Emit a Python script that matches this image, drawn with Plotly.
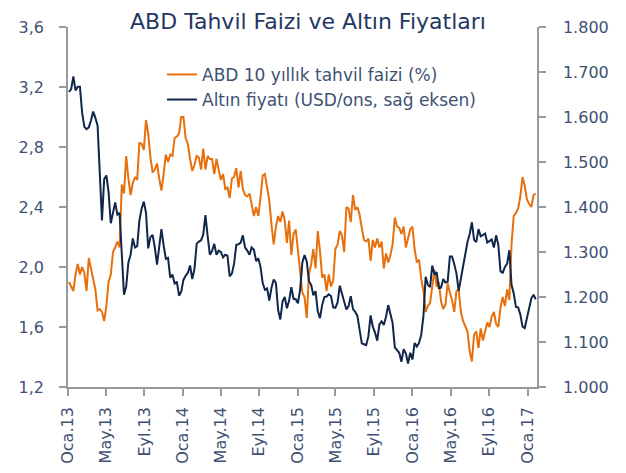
import pandas as pd
import plotly.graph_objects as go

yield_2013 = [1.90, 1.87, 1.84, 1.95, 2.02, 1.95, 2.00, 1.96, 1.84, 2.06, 1.99, 1.93, 1.85,
              1.71, 1.72, 1.70, 1.64, 1.74, 1.90, 1.95, 2.10, 2.13, 2.17, 2.13, 2.55, 2.49,
              2.74, 2.59, 2.48, 2.56, 2.60, 2.58, 2.83, 2.82, 2.78, 2.98, 2.89, 2.73, 2.63,
              2.65, 2.69, 2.59, 2.51, 2.62, 2.75, 2.70, 2.75, 2.74, 2.86, 2.87, 2.89, 3.00]
yield_2014 = [3.00, 2.86, 2.82, 2.72, 2.64, 2.68, 2.74, 2.73, 2.65, 2.79, 2.65, 2.74, 2.72,
              2.72, 2.62, 2.72, 2.66, 2.58, 2.62, 2.52, 2.53, 2.46, 2.59, 2.60, 2.66, 2.53,
              2.64, 2.52, 2.48, 2.47, 2.49, 2.42, 2.34, 2.40, 2.34, 2.46, 2.61, 2.62, 2.53,
              2.44, 2.28, 2.15, 2.27, 2.34, 2.30, 2.37, 2.31, 2.16, 2.31, 2.08, 2.22, 2.25]
yield_2015 = [2.11, 1.95, 1.83, 1.80, 1.66, 1.95, 2.02, 2.12, 1.99, 2.24, 2.11, 1.93, 1.95,
              1.84, 1.95, 1.87, 1.91, 2.12, 2.15, 2.24, 2.21, 2.10, 2.40, 2.39, 2.30, 2.48,
              2.38, 2.40, 2.35, 2.26, 2.18, 2.17, 2.19, 2.04, 2.18, 2.13, 2.19, 2.13, 2.17,
              1.99, 2.09, 2.03, 2.08, 2.15, 2.33, 2.27, 2.26, 2.22, 2.27, 2.13, 2.20, 2.25]
yield_2016 = [2.27, 2.12, 2.03, 2.05, 1.92, 1.84, 1.70, 1.74, 1.76, 1.88, 1.98, 1.87, 1.90,
              1.77, 1.72, 1.75, 1.89, 1.83, 1.78, 1.70, 1.84, 1.85, 1.70, 1.64, 1.61, 1.57,
              1.44, 1.37, 1.55, 1.57, 1.46, 1.59, 1.51, 1.58, 1.63, 1.60, 1.67, 1.70, 1.62,
              1.60, 1.73, 1.80, 1.74, 1.85, 1.78, 2.15, 2.34, 2.36, 2.39, 2.47, 2.60, 2.54, 2.45]
yield_2017 = [2.42, 2.40, 2.48, 2.49]

gold_2013 = [1656, 1662, 1690, 1659, 1667, 1667, 1609, 1578, 1573, 1577, 1592, 1612, 1598,
             1581, 1476, 1370, 1462, 1470, 1433, 1364, 1387, 1410, 1383, 1387, 1296, 1205,
             1223, 1277, 1294, 1330, 1310, 1313, 1370, 1396, 1412, 1387, 1308, 1333, 1338,
             1310, 1272, 1315, 1351, 1315, 1285, 1287, 1243, 1250, 1230, 1234, 1203, 1212]
gold_2014 = [1238, 1247, 1254, 1270, 1240, 1262, 1318, 1323, 1326, 1339, 1382, 1335, 1294,
             1302, 1318, 1294, 1303, 1300, 1288, 1294, 1292, 1246, 1252, 1274, 1316, 1317,
             1321, 1337, 1310, 1303, 1294, 1310, 1305, 1280, 1286, 1267, 1231, 1216, 1219,
             1192, 1221, 1239, 1231, 1171, 1150, 1190, 1200, 1175, 1192, 1222, 1196, 1195]
gold_2015 = [1186, 1217, 1277, 1293, 1279, 1235, 1227, 1204, 1213, 1168, 1153, 1182, 1200,
             1201, 1206, 1202, 1177, 1176, 1188, 1225, 1205, 1190, 1172, 1180, 1202, 1173,
             1167, 1158, 1132, 1097, 1095, 1093, 1113, 1159, 1134, 1121, 1103, 1139, 1146,
             1138, 1156, 1182, 1162, 1142, 1088, 1081, 1076, 1056, 1084, 1075, 1052, 1076]
gold_2016 = [1061, 1098, 1090, 1098, 1116, 1158, 1245, 1227, 1222, 1270, 1250, 1255, 1220,
             1221, 1240, 1232, 1234, 1290, 1290, 1273, 1252, 1214, 1243, 1275, 1295, 1322,
             1340, 1366, 1327, 1322, 1351, 1335, 1339, 1341, 1321, 1324, 1328, 1310, 1337,
             1316, 1257, 1254, 1267, 1274, 1304, 1227, 1208, 1178, 1177, 1161, 1134, 1131, 1152]
gold_2017 = [1173, 1197, 1205, 1195]

tick_dates = ["2013-01-01", "2013-05-01", "2013-09-01", "2014-01-01", "2014-05-01",
              "2014-09-01", "2015-01-01", "2015-05-01", "2015-09-01", "2016-01-01",
              "2016-05-01", "2016-09-01", "2017-01-01"]
tick_labels = ["Oca.13", "May.13", "Eyl.13", "Oca.14", "May.14", "Eyl.14", "Oca.15",
               "May.15", "Eyl.15", "Oca.16", "May.16", "Eyl.16", "Oca.17"]

yields = yield_2013 + yield_2014 + yield_2015 + yield_2016 + yield_2017
gold = gold_2013 + gold_2014 + gold_2015 + gold_2016 + gold_2017
dates = pd.date_range("2013-01-04", periods=len(yields), freq="W-FRI")

ORANGE = "#E8700C"
NAVY = "#10264A"
TXT = "#3E5172"
AX = "#9A9A9A"
FONT = "DejaVu Sans"

fig = go.Figure()
fig.add_trace(go.Scatter(x=dates, y=yields, mode="lines", name="ABD 10 yıllık tahvil faizi (%)",
                         line=dict(color=ORANGE, width=2), yaxis="y"))
fig.add_trace(go.Scatter(x=dates, y=gold, mode="lines", name="Altın fiyatı (USD/ons, sağ eksen)",
                         line=dict(color=NAVY, width=2), yaxis="y2"))

axis_common = dict(showline=True, linecolor=AX, linewidth=1.5, ticks="outside",
                   tickcolor=AX, tickwidth=1.5, ticklen=7, showgrid=False, zeroline=False,
                   automargin=False,
                   tickfont=dict(family=FONT, size=16, color=TXT))

fig.update_layout(
    width=626, height=473,
    margin=dict(l=68, r=89, t=27, b=86),
    paper_bgcolor="white", plot_bgcolor="white",
    separators=",.",
    title=dict(text="ABD Tahvil Faizi ve Altın Fiyatları", x=(308 - 68) / 469, xref="paper",
               y=1 - 21 / 473, yref="container", yanchor="middle", xanchor="center",
               font=dict(family=FONT, size=22, color="#1F3864")),
    xaxis=dict(type="date", range=["2013-01-01", "2017-01-31"], tickvals=tick_dates,
               ticktext=tick_labels, tickangle=-90, ticklabelstandoff=5, **axis_common),
    yaxis=dict(range=[1.2, 3.6], dtick=0.4, tick0=1.2, tickformat=".1f",
               ticklabelstandoff=12, **axis_common),
    yaxis2=dict(range=[1000, 1800], dtick=100, tick0=1000, tickformat=",.0f",
                overlaying="y", side="right", ticklabelstandoff=14, **axis_common),
    legend=dict(x=(162 - 68) / 469, y=0.917, xanchor="left", yanchor="top",
                bgcolor="rgba(0,0,0,0)",
                font=dict(family=FONT, size=17, color=TXT)),
    showlegend=True,
)

fig.write_html("out.html", config={"displayModeBar": False},
               post_script="document.body.style.margin='0px';")
